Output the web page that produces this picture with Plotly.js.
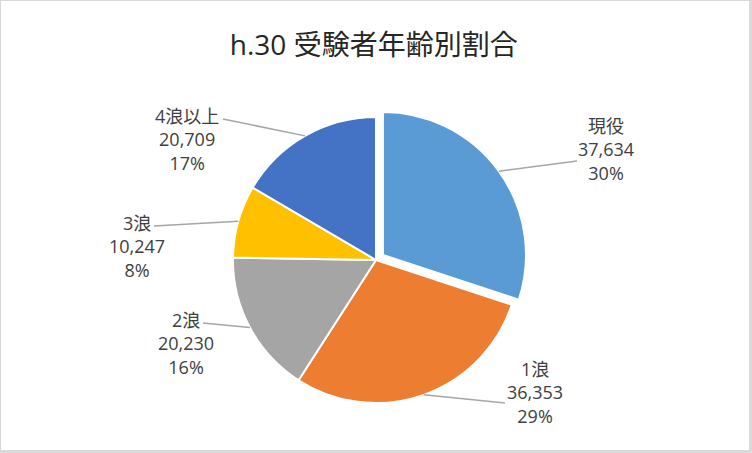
<!DOCTYPE html>
<html>
<head>
<meta charset="utf-8">
<script src="https://cdn.plot.ly/plotly-3.0.1.min.js"></script>
<style>html,body{margin:0;padding:0;background:#fff;}#chart{width:752px;height:453px;}</style>
</head>
<body>
<div id="chart"></div>
<script>
// ---- data ----
const categories = ["現役", "1浪", "2浪", "3浪", "4浪以上"];
const values = [37634, 36353, 20230, 10247, 20709];
const colors = ["#5B9BD5", "#ED7D31", "#A5A5A5", "#FFC000", "#4472C4"];
const pulls = [0.06, 0, 0, 0, 0];
const titleText = "h.30 受験者年齢別割合";

// ---- layout constants (positions, not data) ----
const W = 752, H = 453;
const domX = [0.1, 0.9];
const domY = [0.0914, 0.7607];
// label block centers (px) and leader-line end points (px)
const labelPos = [[606, 149], [535, 392], [186, 343], [137, 246], [187, 139]];
const lineEnd = [[577, 161], [505, 403], [203, 323], [154, 226], [223, 119]];

const total = values.reduce((a, b) => a + b, 0);
const maxPull = Math.max(...pulls);
const boxW = (domX[1] - domX[0]) * W, boxH = (domY[1] - domY[0]) * H;
const r = Math.min(boxW, boxH) / (2 + 2 * maxPull);
const cx = (domX[0] + domX[1]) / 2 * W;
const cy = (1 - (domY[0] + domY[1]) / 2) * H;

const fmt = v => v.toString().replace(/\B(?=(\d{3})+(?!\d))/g, ",");
const font = "Segoe UI, Open Sans, Noto Sans CJK JP, sans-serif";

const annotations = [];
const shapes = [
  {type: "rect", xref: "paper", yref: "paper", x0: 1 / W, x1: 749 / W, y0: 1 - 450 / H, y1: 1 - 1 / H,
   fillcolor: "#ffffff", line: {width: 0}, layer: "below"}
];
let cum = 0;
values.forEach((v, i) => {
  const mid = (cum + v / 2) / total * 2 * Math.PI;
  cum += v;
  const off = pulls[i] * r;
  const sx = cx + (r + off) * Math.sin(mid);
  const sy = cy - (r + off) * Math.cos(mid);
  shapes.push({type: "line", xref: "paper", yref: "paper",
    x0: sx / W, y0: 1 - sy / H, x1: lineEnd[i][0] / W, y1: 1 - lineEnd[i][1] / H,
    line: {color: "#A6A6A6", width: 1.5}});
  annotations.push({xref: "paper", yref: "paper", x: labelPos[i][0] / W, y: 1 - labelPos[i][1] / H,
    xanchor: "center", yanchor: "middle", showarrow: false, align: "center",
    text: categories[i] + "<br>" + fmt(v) + "<br>" + Math.round(v / total * 100) + "%",
    font: {family: font, size: 18, color: "#404040"}});
});

const data = [{
  type: "pie",
  labels: categories,
  values: values,
  sort: false,
  direction: "clockwise",
  rotation: 0,
  pull: pulls,
  marker: {colors: colors, line: {color: "#ffffff", width: 2}},
  textinfo: "none",
  hoverinfo: "skip",
  domain: {x: domX, y: domY},
  showlegend: false
}];

const layout = {
  width: W, height: H,
  margin: {l: 0, r: 0, t: 0, b: 0},
  paper_bgcolor: "#D9D9D9",
  plot_bgcolor: "#ffffff",
  title: {text: titleText, x: 0.497, xanchor: "center", y: 1 - 45 / H, yanchor: "middle",
    font: {family: font, size: 28, color: "#262626"}},
  shapes: shapes,
  annotations: annotations,
  showlegend: false
};

Plotly.newPlot("chart", data, layout, {staticPlot: true, displayModeBar: false});
</script>
</body>
</html>
